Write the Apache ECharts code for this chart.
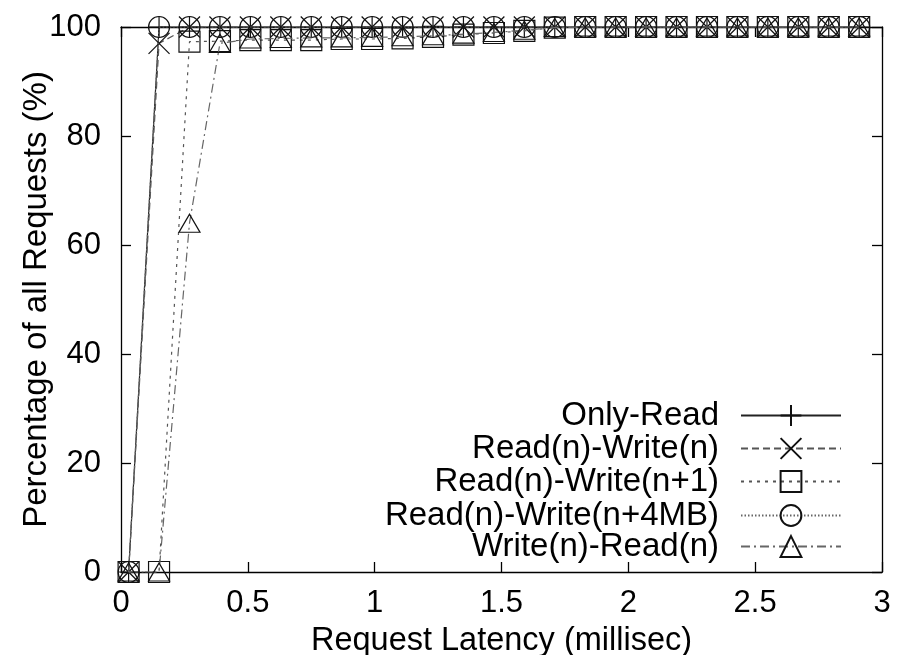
<!DOCTYPE html>
<html>
<head>
<meta charset="utf-8">
<script src="https://cdn.jsdelivr.net/npm/echarts@6/dist/echarts.min.js"></script>
<style>
  html, body { margin: 0; padding: 0; background: #fff; }
  #chart { width: 910px; height: 655px; }
</style>
</head>
<body>
<div id="chart"></div>
<script>
// ---- data ----
var latency = [0.03, 0.15, 0.27, 0.39, 0.51, 0.63, 0.75, 0.87, 0.99, 1.11, 1.23, 1.35, 1.47, 1.59, 1.71, 1.83, 1.95, 2.07, 2.19, 2.31, 2.43, 2.55, 2.67, 2.79, 2.91];
var seriesNames = ['Only-Read', 'Read(n)-Write(n)', 'Read(n)-Write(n+1)', 'Read(n)-Write(n+4MB)', 'Write(n)-Read(n)'];
var onlyRead   = [0, 100, 100, 100, 100, 100, 100, 100, 100, 100, 100, 100, 100, 100, 100, 100, 100, 100, 100, 100, 100, 100, 100, 100, 100];
var rwN        = [0, 97, 100, 100, 100, 100, 100, 100, 100, 100, 100, 100, 100, 100, 100, 100, 100, 100, 100, 100, 100, 100, 100, 100, 100];
var rwN1       = [0, 0, 97.3, 97.4, 97.6, 97.6, 97.6, 97.8, 97.8, 97.9, 98.2, 98.6, 98.9, 99.3, 99.9, 100, 100, 100, 100, 100, 100, 100, 100, 100, 100];
var rwN4MB     = [0, 100, 100, 100, 100, 100, 100, 100, 100, 100, 100, 100, 100, 100, 100, 100, 100, 100, 100, 100, 100, 100, 100, 100, 100];
var wrN        = [0, 0, 64, 97, 97.8, 97.9, 98, 98, 98.1, 98.2, 98.4, 98.7, 99, 99.4, 99.9, 100, 100, 100, 100, 100, 100, 100, 100, 100, 100];
var xTicks = [0, 0.5, 1, 1.5, 2, 2.5, 3];
var yTicks = [0, 20, 40, 60, 80, 100];
var xTitle = 'Request Latency (millisec)';
var yTitle = 'Percentage of all Requests (%)';

// ---- styling ----
var FONT = '"Liberation Sans", Arial, sans-serif';
var seriesValues = [onlyRead, rwN, rwN1, rwN4MB, wrN];
var symbols = [
  'path://M10,0L10,20M0,10L20,10',
  'path://M0,0L20,20M20,0L0,20',
  'rect',
  'circle',
  'triangle'
];
var symbolSizes = [21, 21, 21, 21, [21, 18]];
var lineTypes = ['solid', [7, 4], [3, 5], [1.5, 2], [9, 4, 2, 4]];
var lineColors = ['#222', '#555', '#555', '#666', '#666'];
var legendCenters = [412, 445, 478, 512, 543];

function pairs(xs, ys) {
  var out = [];
  for (var i = 0; i < xs.length; i++) out.push([xs[i], ys[i]]);
  return out;
}

var series = seriesNames.map(function (name, i) {
  return {
    name: name,
    type: 'line',
    data: pairs(latency, seriesValues[i]),
    symbol: symbols[i],
    symbolSize: symbolSizes[i],
    showAllSymbol: true,
    clip: false,
    lineStyle: { color: lineColors[i], width: 1.2, type: lineTypes[i] },
    itemStyle: { color: 'none', borderColor: '#111', borderWidth: 1.2 },
    emphasis: { disabled: true },
    animation: false,
    z: 2 + i
  };
});

var legends = seriesNames.map(function (name, i) {
  return {
    data: [name],
    orient: 'vertical',
    right: 68,
    top: legendCenters[i] - 13,
    padding: 0,
    align: 'right',
    itemWidth: 100,
    itemHeight: 26,
    selectedMode: false,
    textStyle: { fontFamily: FONT, fontSize: 33, color: '#000', lineHeight: 26, padding: [0, 17, 0, 0] }
  };
});

var xMin = xTicks[0], xMax = xTicks[xTicks.length - 1], xInt = xTicks[1] - xTicks[0];
var yMin = yTicks[0], yMax = yTicks[yTicks.length - 1], yInt = yTicks[1] - yTicks[0];

function axisCommon() {
  return {
    nameMoveOverlap: false,
    axisLine: { show: true, onZero: false, lineStyle: { color: '#000', width: 1.3 } },
    axisTick: { show: true, inside: true, length: 10, lineStyle: { color: '#000', width: 1.3 } },
    splitLine: { show: false }
  };
}

var option = {
  backgroundColor: '#fff',
  animation: false,
  grid: { left: 121, right: 28, top: 27, bottom: 83, containLabel: false, outerBoundsMode: 'none' },
  legend: legends,
  xAxis: [
    Object.assign(axisCommon(), {
      type: 'value', position: 'bottom', min: xMin, max: xMax, interval: xInt,
      name: xTitle, nameLocation: 'middle', nameGap: 53,
      nameTextStyle: { fontFamily: FONT, fontSize: 32.5, color: '#000' },
      axisLabel: { fontFamily: FONT, fontSize: 31, color: '#000', margin: 16 }
    }),
    Object.assign(axisCommon(), {
      type: 'value', position: 'top', min: xMin, max: xMax, interval: xInt,
      axisLabel: { show: false }
    })
  ],
  yAxis: [
    Object.assign(axisCommon(), {
      type: 'value', position: 'left', min: yMin, max: yMax, interval: yInt,
      name: yTitle, nameLocation: 'middle', nameGap: 68,
      nameTextStyle: { fontFamily: FONT, fontSize: 33, color: '#000' },
      axisLabel: { fontFamily: FONT, fontSize: 31, color: '#000', margin: 20 }
    }),
    Object.assign(axisCommon(), {
      type: 'value', position: 'right', min: yMin, max: yMax, interval: yInt,
      axisLabel: { show: false }
    })
  ],
  series: series
};

var chart = echarts.init(document.getElementById('chart'), null, { renderer: 'canvas' });
chart.setOption(option);
</script>
</body>
</html>
